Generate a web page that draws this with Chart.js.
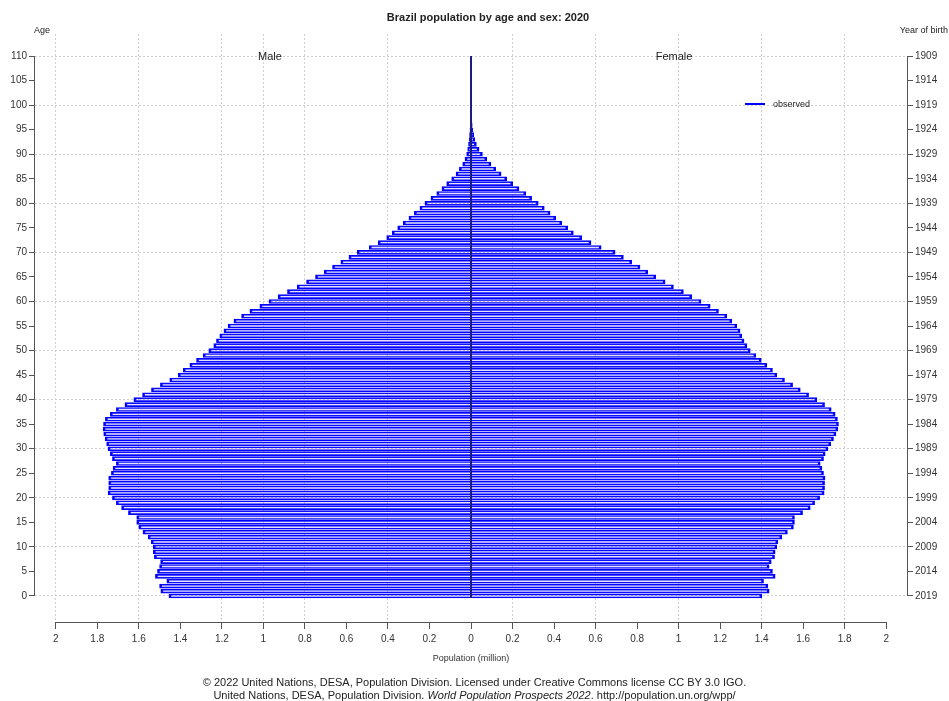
<!DOCTYPE html>
<html>
<head>
<meta charset="utf-8">
<title>Brazil population by age and sex: 2020</title>
<script src="https://cdn.jsdelivr.net/npm/chart.js@4.4.1/dist/chart.umd.min.js"></script>
<style>
  html, body { margin: 0; padding: 0; background: #fff; }
  #wrap { position: relative; width: 949px; height: 701px; }
  #pyramid { display: block; }
  #footer {
    position: absolute; left: 0; top: 676px; width: 949px;
    text-align: center; font: 11px "Liberation Sans", Arial, sans-serif;
    line-height: 13px; color: #222;
  }
</style>
</head>
<body>
<div id="wrap">
  <canvas id="pyramid" width="949" height="701"></canvas>
  <div id="footer">
    © 2022 United Nations, DESA, Population Division. Licensed under Creative Commons license CC BY 3.0 IGO.<br>
    United Nations, DESA, Population Division. <i>World Population Prospects 2022</i>. http://population.un.org/wpp/
  </div>
</div>
<script>
'use strict';

// ages 0..100, population in millions
var ages = [
  0, 1, 2, 3, 4, 5, 6, 7, 8, 9, 10, 11, 12, 13, 14, 15, 16, 17, 18, 19,
  20, 21, 22, 23, 24, 25, 26, 27, 28, 29, 30, 31, 32, 33, 34, 35, 36, 37, 38, 39,
  40, 41, 42, 43, 44, 45, 46, 47, 48, 49, 50, 51, 52, 53, 54, 55, 56, 57, 58, 59,
  60, 61, 62, 63, 64, 65, 66, 67, 68, 69, 70, 71, 72, 73, 74, 75, 76, 77, 78, 79,
  80, 81, 82, 83, 84, 85, 86, 87, 88, 89, 90, 91, 92, 93, 94, 95, 96, 97, 98, 99, 100
];

var male = [
  1.455, 1.494, 1.500, 1.465, 1.520, 1.510, 1.500, 1.495, 1.525, 1.530,
  1.530, 1.540, 1.555, 1.580, 1.600, 1.610, 1.610, 1.650, 1.683, 1.708,
  1.727, 1.748, 1.745, 1.745, 1.745, 1.732, 1.724, 1.708, 1.727, 1.737,
  1.748, 1.755, 1.762, 1.769, 1.772, 1.770, 1.761, 1.737, 1.708, 1.667,
  1.624, 1.582, 1.539, 1.496, 1.451, 1.410, 1.386, 1.354, 1.322, 1.290,
  1.263, 1.239, 1.226, 1.210, 1.190, 1.170, 1.142, 1.105, 1.065, 1.017,
  0.973, 0.929, 0.884, 0.837, 0.792, 0.749, 0.707, 0.667, 0.627, 0.588,
  0.548, 0.490, 0.447, 0.406, 0.379, 0.353, 0.326, 0.299, 0.273, 0.246,
  0.222, 0.193, 0.165, 0.140, 0.117, 0.093, 0.072, 0.056, 0.040, 0.029,
  0.021, 0.016, 0.012, 0.009, 0.007, 0.005, 0.003, 0.002, 0.0015, 0.001,
  0.0007
];

var female = [
  1.401, 1.436, 1.430, 1.409, 1.465, 1.452, 1.436, 1.446, 1.462, 1.465,
  1.473, 1.478, 1.497, 1.524, 1.553, 1.558, 1.558, 1.597, 1.634, 1.655,
  1.679, 1.701, 1.703, 1.703, 1.705, 1.698, 1.690, 1.682, 1.698, 1.706,
  1.719, 1.733, 1.746, 1.758, 1.767, 1.770, 1.765, 1.754, 1.735, 1.703,
  1.666, 1.626, 1.586, 1.549, 1.510, 1.473, 1.452, 1.425, 1.398, 1.372,
  1.345, 1.329, 1.315, 1.304, 1.296, 1.280, 1.256, 1.232, 1.192, 1.152,
  1.108, 1.063, 1.023, 0.975, 0.935, 0.890, 0.851, 0.814, 0.774, 0.734,
  0.694, 0.627, 0.578, 0.533, 0.493, 0.466, 0.437, 0.408, 0.381, 0.353,
  0.324, 0.292, 0.264, 0.231, 0.201, 0.172, 0.145, 0.119, 0.096, 0.076,
  0.055, 0.039, 0.026, 0.018, 0.013, 0.009, 0.006, 0.004, 0.003, 0.002,
  0.0015
];

// axis ticks
var popTicks = [-2, -1.8, -1.6, -1.4, -1.2, -1, -0.8, -0.6, -0.4, -0.2, 0,
                0.2, 0.4, 0.6, 0.8, 1, 1.2, 1.4, 1.6, 1.8, 2];
var popGrid = [-2, -1.6, -1.2, -1, -0.8, -0.4, 0.2, 0.6, 1, 1.4, 1.8];
var ageTicks = [0, 5, 10, 15, 20, 25, 30, 35, 40, 45, 50, 55, 60, 65, 70, 75, 80, 85, 90, 95, 100, 105, 110];
var birthYears = [2019, 2014, 2009, 2004, 1999, 1994, 1989, 1984, 1979, 1974, 1969, 1964,
                  1959, 1954, 1949, 1944, 1939, 1934, 1929, 1924, 1919, 1914, 1909];

var BLUE = '#0000ff';
var GRID = '#cfcfcf';
var AXIS = '#555555';
var FONT = '"Liberation Sans", Arial, Helvetica, sans-serif';

Chart.defaults.font.family = FONT;
Chart.defaults.color = '#333';

function points(vals, sign) {
  return ages.map(function (a, i) { return { x: sign * vals[i], y: a }; });
}

function fixTicks(list) {
  return function (s) { s.ticks = list.map(function (v) { return { value: v }; }); };
}

// R-style axis lines, centre line, labels and legend
var decor = {
  id: 'decor',
  afterDatasetsDraw: function (chart) {
    var ctx = chart.ctx, a = chart.chartArea;
    var xs = chart.scales.x, ys = chart.scales.y;
    var y0 = ys.getPixelForValue(ageTicks[0]);
    var y1 = ys.getPixelForValue(ageTicks[ageTicks.length - 1]);
    ctx.save();

    // centre line
    ctx.strokeStyle = '#1c1c80';
    ctx.lineWidth = 2;
    ctx.beginPath();
    ctx.moveTo(xs.getPixelForValue(0), y0 + 2);
    ctx.lineTo(xs.getPixelForValue(0), y1);
    ctx.stroke();

    // axis lines
    ctx.strokeStyle = AXIS;
    ctx.lineWidth = 1;
    ctx.beginPath();
    ctx.moveTo(xs.getPixelForValue(popTicks[0]), a.bottom + 0.5);
    ctx.lineTo(xs.getPixelForValue(popTicks[popTicks.length - 1]), a.bottom + 0.5);
    ctx.moveTo(a.left - 0.5, y0);
    ctx.lineTo(a.left - 0.5, y1);
    ctx.moveTo(a.right + 0.5, y0);
    ctx.lineTo(a.right + 0.5, y1);
    ctx.stroke();

    // title and side labels
    ctx.fillStyle = '#222';
    ctx.textBaseline = 'middle';
    ctx.textAlign = 'center';
    ctx.font = 'bold 11px ' + FONT;
    ctx.fillText('Brazil population by age and sex: 2020', 488, 18);
    ctx.font = '11px ' + FONT;
    ctx.fillText('Male', 270, 57);
    ctx.fillText('Female', 674, 57);
    ctx.font = '9px ' + FONT;
    ctx.fillText('Age', 42, 31);
    ctx.textAlign = 'right';
    ctx.fillText('Year of birth', 948, 31);

    // legend
    ctx.strokeStyle = BLUE;
    ctx.lineWidth = 2;
    ctx.beginPath();
    ctx.moveTo(745, 104);
    ctx.lineTo(765, 104);
    ctx.stroke();
    ctx.textAlign = 'left';
    ctx.fillText('observed', 773, 105);
    ctx.restore();
  }
};

var barStyle = {
  backgroundColor: 'rgba(110, 110, 255, 0.2)',
  borderColor: BLUE,
  borderWidth: { top: 1, bottom: 1, left: 2, right: 2 },
  borderSkipped: 'start',
  barThickness: 4,
  grouped: false
};

new Chart(document.getElementById('pyramid'), {
  type: 'bar',
  data: {
    datasets: [
      Object.assign({ label: 'Male', data: points(male, -1) }, barStyle),
      Object.assign({ label: 'Female', data: points(female, 1) }, barStyle)
    ]
  },
  plugins: [decor],
  options: {
    responsive: false,
    animation: false,
    indexAxis: 'y',
    layout: { padding: { top: 34, bottom: 29, left: 0, right: 0 } },
    plugins: { legend: { display: false }, title: { display: false }, tooltip: { enabled: false } },
    scales: {
      x: {
        type: 'linear', position: 'bottom', min: -2.1, max: 2.1, offset: false,
        afterBuildTicks: fixTicks(popTicks),
        afterFit: function (s) { s.height = 50; },
        ticks: {
          padding: 4, maxRotation: 0, autoSkip: false, font: { size: 10 },
          callback: function (v) { return String(Math.abs(Math.round(v * 10) / 10)); }
        },
        grid: {
          offset: false,
          color: function (c) {
            return c.tick && popGrid.indexOf(Math.round(c.tick.value * 10) / 10) >= 0 ? GRID : 'rgba(0,0,0,0)';
          },
          tickColor: AXIS, tickLength: 7, tickBorderDash: []
        },
        border: { display: false, dash: [2, 2] },
        title: { display: true, text: 'Population (million)', font: { size: 9 }, padding: { top: 4, bottom: 8 } }
      },
      y: {
        type: 'linear', position: 'left', min: -5.3, max: 114.5, offset: false,
        afterBuildTicks: fixTicks(ageTicks),
        afterFit: function (s) { s.width = 35; },
        ticks: { padding: 2, autoSkip: false, font: { size: 10 } },
        grid: {
          offset: false,
          color: function (c) { return c.tick && c.tick.value % 10 === 0 ? GRID : 'rgba(0,0,0,0)'; },
          tickColor: AXIS, tickLength: 6, tickBorderDash: []
        },
        border: { display: false, dash: [2, 2] }
      },
      y2: {
        type: 'linear', position: 'right', min: -5.3, max: 114.5, offset: false,
        afterBuildTicks: fixTicks(ageTicks),
        afterFit: function (s) { s.width = 42; },
        ticks: {
          padding: 2, autoSkip: false, font: { size: 10 },
          callback: function (v) { return String(birthYears[ageTicks.indexOf(v)]); }
        },
        grid: { offset: false, drawOnChartArea: false, tickColor: AXIS, tickLength: 6 },
        border: { display: false }
      }
    }
  }
});
</script>
</body>
</html>
